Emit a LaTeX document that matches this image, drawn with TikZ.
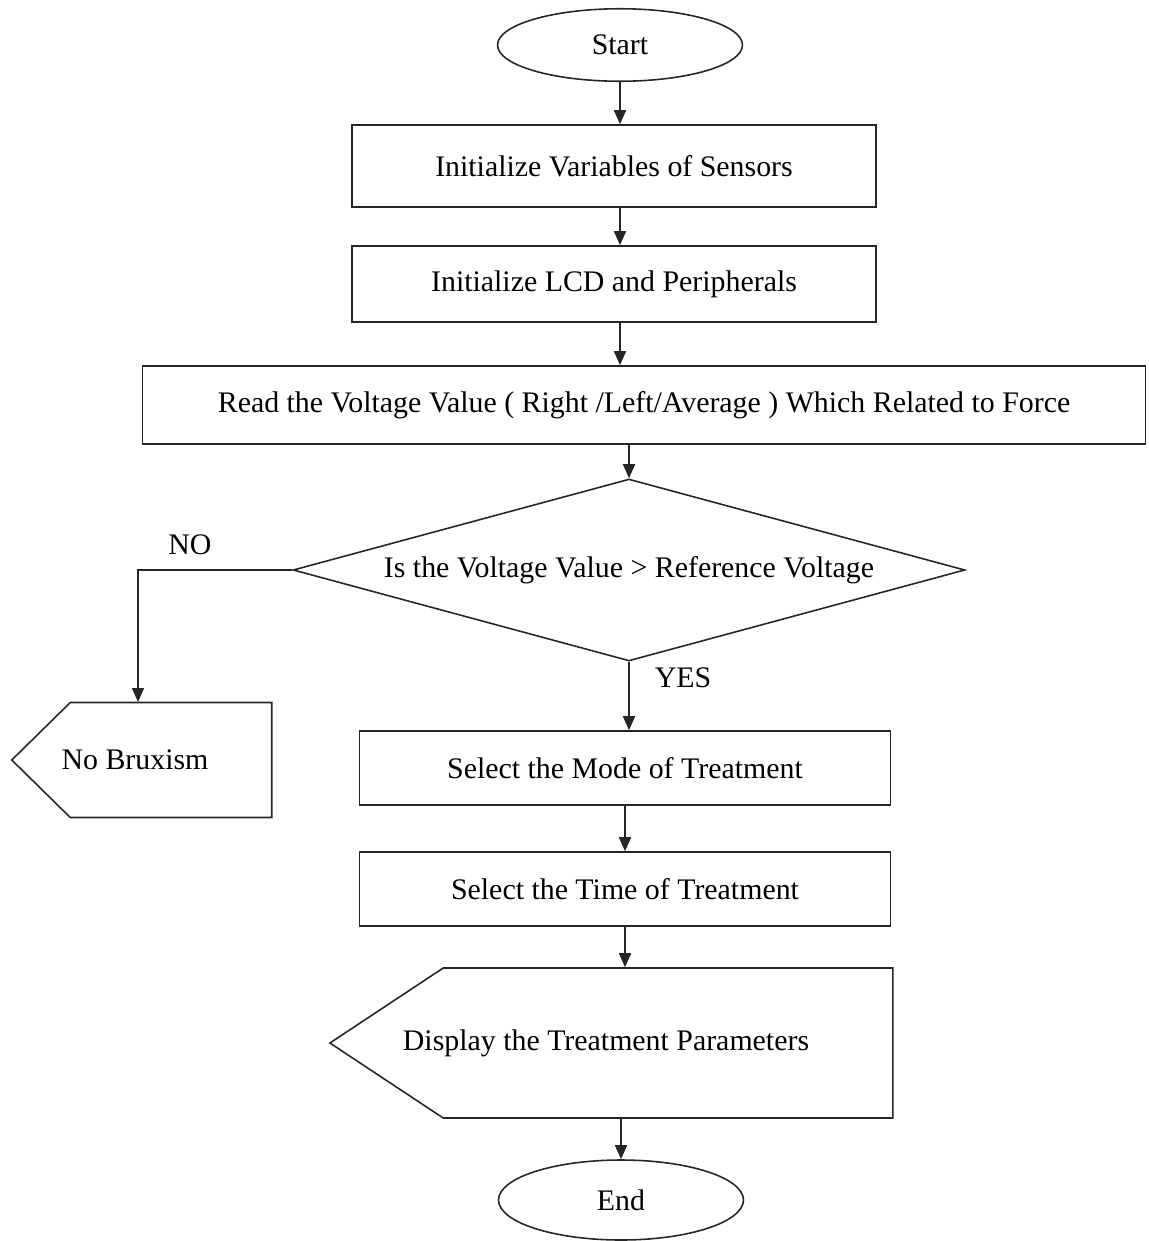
\documentclass[tikz,border=0pt]{standalone}
\usepackage{fontspec}
\setmainfont{Liberation Serif}
\usetikzlibrary{shapes.geometric,shapes.symbols,arrows.meta}
\begin{document}
\begin{tikzpicture}[x=0.02cm, y=-0.02cm, font=\fontsize{17}{20}\selectfont,
	>={Triangle[length=2.8mm, width=2.4mm]}, line width=0.9pt, draw=black!85]
	\tikzstyle{place}=[rectangle, draw=black!85, minimum height=1.55cm]
	\tikzstyle{term}=[ellipse, draw=black!85, minimum width=4.9cm, minimum height=1.45cm]
	\tikzstyle{check}=[diamond, draw=black!85, shape aspect=3.69, minimum width=13.44cm, minimum height=3.64cm, inner sep=0pt]
	\tikzstyle{show}=[signal, signal to=west, signal from=nowhere, draw=black!85]
	\useasboundingbox (0, 0) rectangle (1149, 1241);
	\draw node[term] at (620, 45) (start) {Start};
	\draw node[place, minimum width=10.48cm, minimum height=1.64cm] at (614, 166) (vars) {Initialize Variables of Sensors};
	\draw node[place, minimum width=10.48cm, minimum height=1.52cm] at (614, 284) (lcd) {Initialize LCD and Peripherals};
	\draw node[place, minimum width=20.06cm, minimum height=1.56cm] at (644, 405) (read) {Read the Voltage Value ( Right /Left/Average ) Which Related to Force};
	\draw node[check] at (629, 570) (cmp) {Is the Voltage Value > Reference Voltage};
	\draw node at (190, 545) (no) {NO};
	\draw node at (683, 678) (yes) {YES};
	% signal shapes: body centred on node, tip added on the left
	\draw node[show, signal pointer angle=89, minimum width=5.2cm, minimum height=2.3cm] at (171, 760) (nobrux) {};
	\draw node at (135, 760) (nobruxtext) {No Bruxism};
	\coordinate (nobruxin) at (138, 702);
	\draw node[place, minimum width=10.62cm, minimum height=1.48cm] at (625, 768) (mode) {Select the Mode of Treatment};
	\draw node[place, minimum width=10.62cm, minimum height=1.48cm] at (625, 889) (time) {Select the Time of Treatment};
	\draw node[show, signal pointer angle=67, minimum width=11.26cm, minimum height=3.0cm] at (668, 1043) (disp) {};
	\draw node at (606, 1043) (disptext) {Display the Treatment Parameters};
	\draw node[term, minimum height=1.6cm] at (621, 1200) (end) {End};

	\draw [->] (start) -- (start |- vars.north);
	\draw [->] (start |- vars.south) -- (start |- lcd.north);
	\draw [->] (start |- lcd.south) -- (start |- read.north);
	\draw [->] (cmp.north |- read.south) -- (cmp.north);
	\draw [->] (cmp.west) -| (nobruxin);
	\draw [->] (cmp.south) -- (cmp.south |- mode.north);
	\draw [->] (time |- mode.south) -- (time.north);
	\draw [->] (time.south) -- (time.south |- disp.north);
	\draw [->] (end |- disp.south) -- (end);
\end{tikzpicture}
\end{document}
